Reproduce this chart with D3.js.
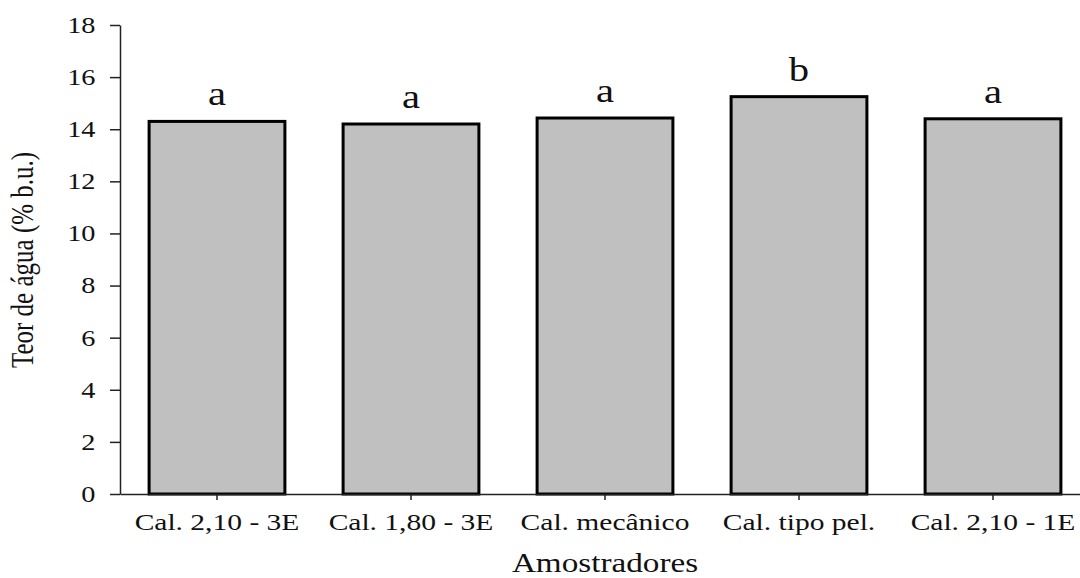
<!DOCTYPE html>
<html>
<head>
<meta charset="utf-8">
<script src="https://cdn.jsdelivr.net/npm/d3@7"></script>
<style>
  body { margin: 0; background: #fff; }
  svg text { font-family: "Liberation Serif", "Times New Roman", serif; fill: #111; }
</style>
</head>
<body>
<div id="chart"></div>
<script>
// data
var amostradores = ["Cal. 2,10 - 3E", "Cal. 1,80 - 3E", "Cal. mecânico", "Cal. tipo pel.", "Cal. 2,10 - 1E"];
var teorAgua = [14.3, 14.2, 14.43, 15.25, 14.4];
var letras = ["a", "a", "a", "b", "a"];
var yTicks = [0, 2, 4, 6, 8, 10, 12, 14, 16, 18];

var svgWidth = 1080;
var svgHeight = 578;
var stretch = 1.23; // the source image is a bit wider than tall

var svg = d3.select("#chart")
    .append("svg")
        .attr("width", svgWidth)
        .attr("height", svgHeight);

var xScale = d3.scaleBand()
    .domain(amostradores)
    .range([120, 1090])
    .paddingInner(0.3)
    .paddingOuter(0.15);

var yScale = d3.scaleLinear()
    .domain([0, 18])
    .range([494, 25]);

// bars
svg.append("g").selectAll("rect")
    .data(teorAgua)
    .enter()
    .append("rect")
        .attr("x", (d, i) => xScale(amostradores[i]))
        .attr("y", d => yScale(d))
        .attr("width", xScale.bandwidth())
        .attr("height", d => yScale(0) - yScale(d))
        .attr("fill", "#c0c0c0")
        .attr("stroke", "#000")
        .attr("stroke-width", 3);

// letters above bars
svg.append("g").selectAll("text")
    .data(letras)
    .enter()
    .append("text")
        .attr("transform", (d, i) => `translate(${xScale(amostradores[i]) + xScale.bandwidth() / 2}, ${yScale(teorAgua[i]) - 16}) scale(${stretch},1)`)
        .attr("text-anchor", "middle")
        .style("font-size", "33px")
        .text(d => d);

// y axis
var yAxis = d3.axisLeft(yScale)
    .tickValues(yTicks)
    .tickSize(10)
    .tickSizeOuter(0)
    .tickPadding(10);

var gy = svg.append("g")
    .attr("transform", "translate(120, 0)")
    .call(yAxis);
gy.select(".domain").attr("stroke", "#222").attr("stroke-width", 1.5);
gy.selectAll(".tick line").attr("stroke", "#222").attr("stroke-width", 1.5);
gy.selectAll(".tick text")
    .style("font-size", "23px")
    .attr("font-family", null)
    .attr("transform", `scale(${stretch},1)`);

// x axis
var xAxis = d3.axisBottom(xScale)
    .tickSize(6)
    .tickSizeOuter(0)
    .tickPadding(16);

var gx = svg.append("g")
    .attr("transform", "translate(0, 494)")
    .call(xAxis);
gx.select(".domain").attr("stroke", "#222").attr("stroke-width", 1.5);
gx.selectAll(".tick line").attr("stroke", "#222").attr("stroke-width", 1.5);
gx.selectAll(".tick text")
    .style("font-size", "24px")
    .attr("font-family", null)
    .attr("dy", null)
    .attr("y", 36)
    .attr("transform", `scale(${stretch},1)`);

// axis titles
svg.append("text")
    .attr("transform", `translate(${xScale("Cal. mecânico") + xScale.bandwidth() / 2}, 572) scale(${stretch},1)`)
    .attr("text-anchor", "middle")
    .style("font-size", "27px")
    .text("Amostradores");

svg.append("text")
    .attr("transform", `translate(33, 260) scale(${stretch},1) rotate(-90)`)
    .attr("text-anchor", "middle")
    .style("font-size", "25px")
    .text("Teor de água (% b.u.)");
</script>
</body>
</html>
